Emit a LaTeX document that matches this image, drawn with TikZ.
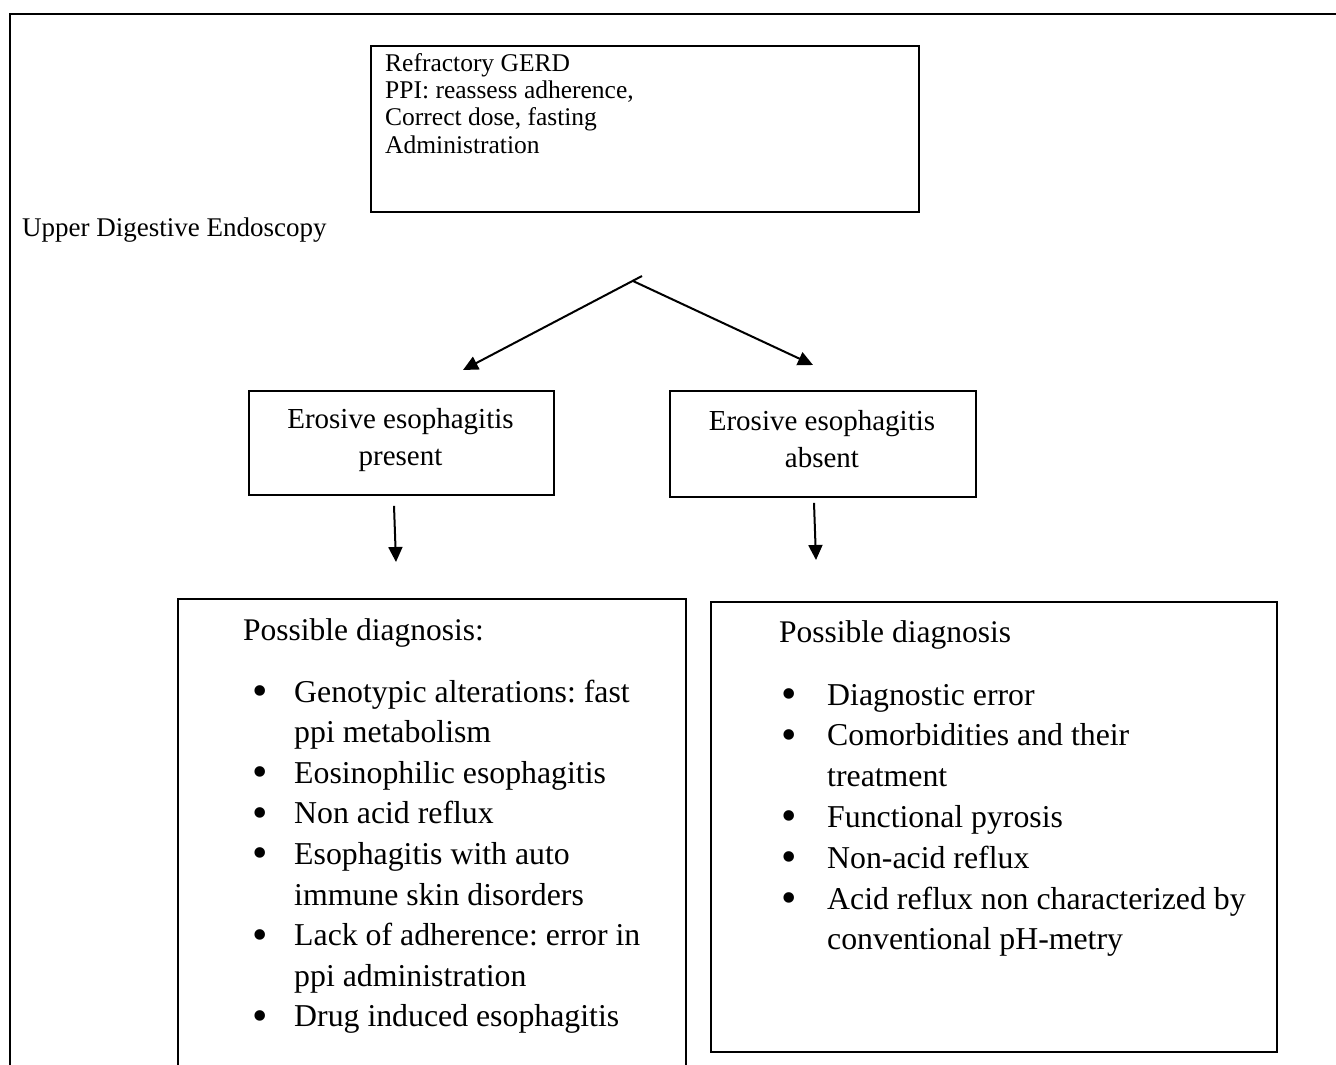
\documentclass[tikz,border=0pt]{standalone}
\usepackage{fontspec}
\setmainfont{Liberation Serif}
\usetikzlibrary{arrows.meta}
\newcommand{\bigbul}{\raisebox{-3.5pt}[0pt][0pt]{\fontsize{44}{44}\selectfont\textbullet}}
\begin{document}
\frenchspacing
\begin{tikzpicture}[x=1pt,y=-1pt,
  box/.style={draw, line width=1.8pt, inner sep=0pt, anchor=north west},
  txt/.style={inner sep=0pt, anchor=base west},
  ctxt/.style={inner sep=0pt, anchor=base},
  arr/.style={line width=2pt, -{Triangle[length=15pt,width=14pt]}},
  frame/.style={line width=2.6pt}
]
\useasboundingbox (0,0) rectangle (1336,1065);

% outer frame (only top and left edges visible)
\coordinate (fTL) at (10,14);
\coordinate (fTR) at (1340,14);
\coordinate (fBL) at (10,1070);
\draw[frame] (fTR) -- (fTL) -- (fBL);

% top box
\node[box, minimum width=548pt, minimum height=166pt] (top) at (370,45) {};
\node[txt] (toptext) at (385,71) {\fontsize{25.5}{27.4}\selectfont
  \begin{tabular}[t]{@{}l@{}}
  Refractory GERD\\
  PPI: reassess adherence,\\
  Correct dose, fasting\\
  Administration
  \end{tabular}};

\node[txt] (endo) at (22,236) {\fontsize{27}{30}\selectfont Upper Digestive Endoscopy};

% branching arrows
\coordinate (apexL) at (642,276);
\coordinate (apex) at (633,281);
\coordinate (tipL) at (463,370);
\coordinate (tipR) at (813,365);
\draw[arr] (apexL) -- (tipL);
\draw[arr] (apex) -- (tipR);

% middle boxes
\node[box, minimum width=305pt, minimum height=104pt] (present) at (248,390) {};
\node[ctxt] (presentT) at (400.5,428) {\fontsize{29}{37}\selectfont
  \begin{tabular}[t]{@{}c@{}}Erosive esophagitis\\ present\end{tabular}};
\node[box, minimum width=306pt, minimum height=106pt] (absent) at (669,390) {};
\node[ctxt] (absentT) at (822,430) {\fontsize{29}{37}\selectfont
  \begin{tabular}[t]{@{}c@{}}Erosive esophagitis\\ absent\end{tabular}};

% down arrows
\coordinate (dL) at (396,562);
\coordinate (dR) at (816,560);
\draw[arr] ([xshift=-2pt,yshift=-10pt]present.south -| dL) -- (dL);
\draw[arr] ([xshift=-2pt,yshift=-5pt]absent.south -| dR) -- (dR);

% bottom left box (open at the bottom)
\node[box, minimum width=508pt, minimum height=480pt] (leftdx) at (177,598) {};
\node[txt] (leftH) at (243,640) {\fontsize{31.5}{36}\selectfont Possible diagnosis:};
\node[txt] (leftL) at (252,702) {\fontsize{31.8}{40.6}\selectfont
  \begin{tabular}[t]{@{}p{42pt}@{}l@{}}
  \bigbul & Genotypic alterations: fast\\
   & ppi metabolism\\
  \bigbul & Eosinophilic esophagitis\\
  \bigbul & Non acid reflux\\
  \bigbul & Esophagitis with auto\\
   & immune skin disorders\\
  \bigbul & Lack of adherence: error in\\
   & ppi administration\\
  \bigbul & Drug induced esophagitis
  \end{tabular}};

% bottom right box
\node[box, minimum width=566pt, minimum height=450pt] (rightdx) at (710,601) {};
\node[txt] (rightH) at (779,642) {\fontsize{31.5}{36}\selectfont Possible diagnosis};
\node[txt] (rightL) at (781,705) {\fontsize{31.8}{40.8}\selectfont
  \begin{tabular}[t]{@{}p{46pt}@{}l@{}}
  \bigbul & Diagnostic error\\
  \bigbul & Comorbidities and their\\
   & treatment\\
  \bigbul & Functional pyrosis\\
  \bigbul & Non-acid reflux\\
  \bigbul & Acid reflux non characterized by\\
   & conventional pH-metry
  \end{tabular}};
\end{tikzpicture}
\end{document}
